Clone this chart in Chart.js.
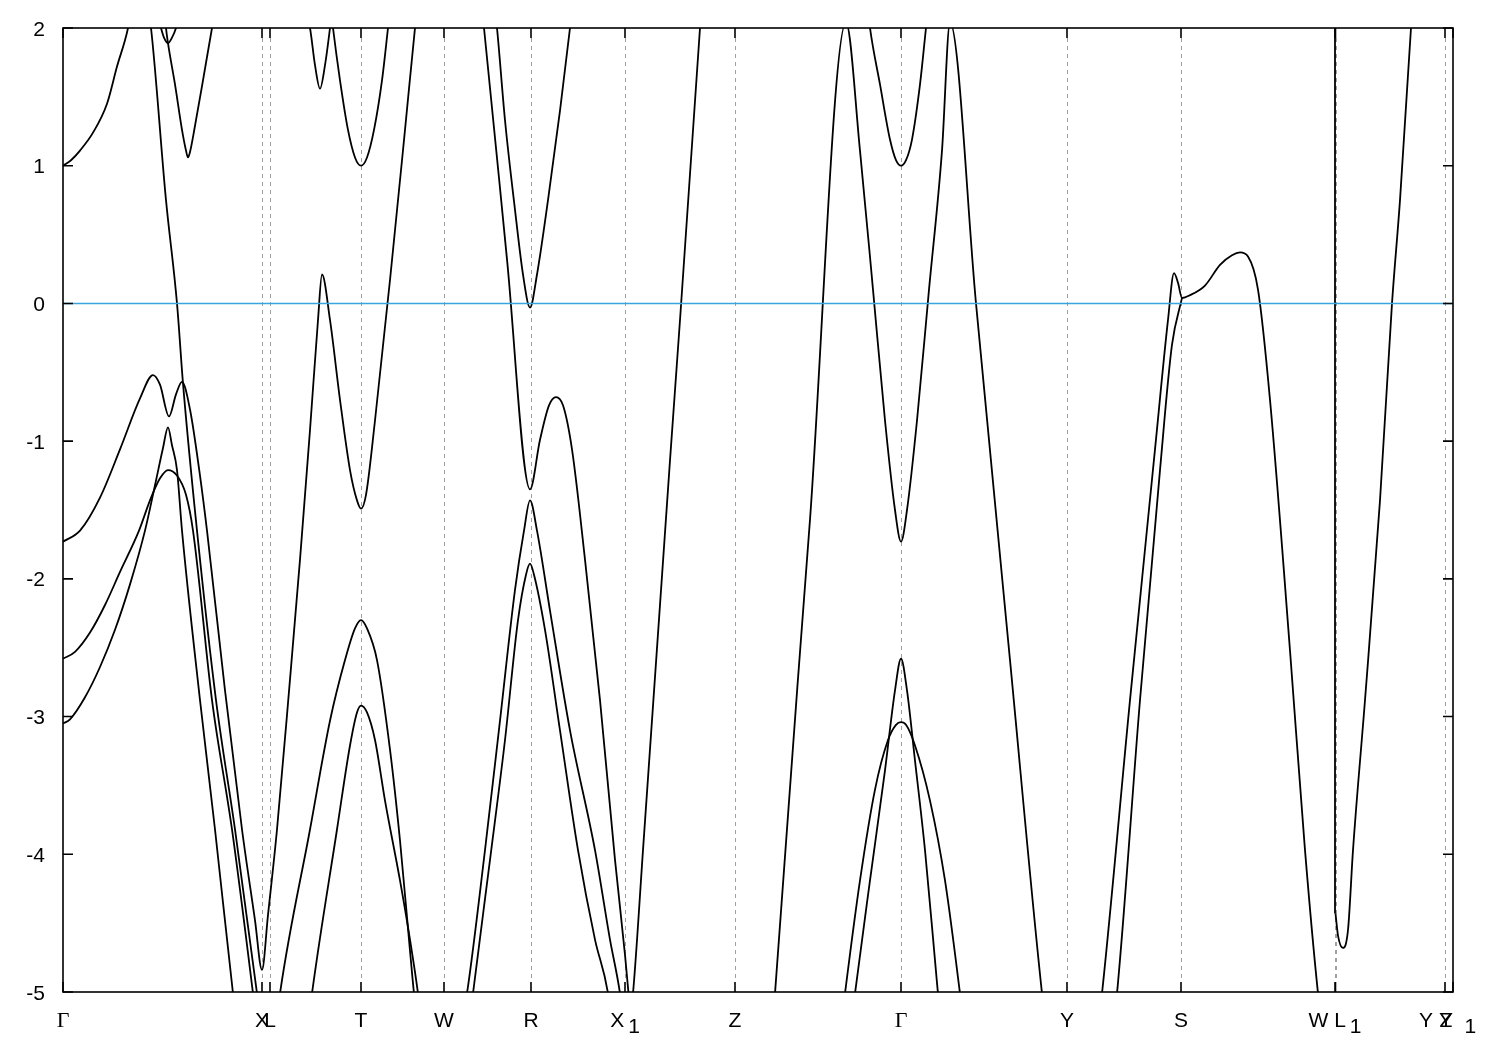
<!DOCTYPE html>
<html><head><meta charset="utf-8">
<script src="https://cdn.jsdelivr.net/npm/chart.js@4/dist/chart.umd.min.js"></script>
<style>html,body{margin:0;padding:0;background:#fff}#wrap{width:1500px;height:1050px;position:relative}</style>
</head><body><div id="wrap"><canvas id="c" width="1500" height="1050"></canvas></div>
<script>
const kMin = 0, kMax = 13.90, eMin = -5, eMax = 2;
const kTicks = [0, 1.99, 2.07, 2.98, 3.81, 4.68, 5.62, 6.72, 8.38, 10.04, 11.18, 12.72, 12.725, 13.82, 13.90];
const kTickLabels = ['Γ','X','L','T','W','R','X_1','Z','Γ','Y','S','W L_1','','Y Y','Z_1'];
const eTicks = [-5,-4,-3,-2,-1,0,1,2];
const fermi = [[0,0],[13.90,0]];

const bandA = [[0,1.00],[0.08,1.04],[0.17,1.11],[0.30,1.24],[0.44,1.45],[0.54,1.72],[0.65,2.00],[0.68,2.13]];
const bandB = [[0.95,2.09],[0.98,2.00],[1.01,1.93],[1.05,1.89],[1.09,1.93],[1.13,2.00],[1.16,2.09]];
const bandC = [[1.02,2.09],[1.03,2.00],[1.05,1.89],[1.12,1.59],[1.19,1.26],[1.23,1.11],[1.25,1.06],[1.27,1.10],[1.32,1.29],[1.40,1.62],[1.49,2.00],[1.51,2.08]];
const bandD = [[0.86,2.09],[0.88,2.00],[1.03,0.75],[1.14,0.00],[1.20,-0.58],[1.34,-1.65],[1.53,-2.88],[1.72,-3.82],[1.94,-5.01],[1.96,-5.13]];
const bandE = [[0,-1.73],[0.17,-1.65],[0.37,-1.41],[0.57,-1.06],[0.77,-0.69],[0.90,-0.52],[0.97,-0.59],[1.06,-0.82],[1.13,-0.66],[1.19,-0.57],[1.27,-0.77],[1.37,-1.25],[1.44,-1.65],[1.62,-2.81],[1.79,-3.82],[1.92,-4.48],[1.99,-4.84],[2.05,-4.44],[2.14,-3.82],[2.27,-2.73],[2.37,-1.86],[2.47,-0.92],[2.55,-0.12],[2.59,0.21],[2.67,-0.12],[2.77,-0.70],[2.87,-1.21],[2.94,-1.43],[2.98,-1.49],[3.03,-1.39],[3.12,-0.85],[3.27,0.17],[3.42,1.26],[3.52,2.00],[3.54,2.13]];
const bandF = [[0,-3.05],[0.07,-3.02],[0.22,-2.86],[0.37,-2.64],[0.52,-2.37],[0.67,-2.04],[0.82,-1.65],[0.92,-1.32],[1.00,-1.05],[1.05,-0.90],[1.09,-1.03],[1.14,-1.21],[1.19,-1.65],[1.37,-2.88],[1.52,-3.82],[1.70,-5.01],[1.72,-5.13]];
const bandG = [[0,-2.58],[0.12,-2.53],[0.27,-2.39],[0.42,-2.19],[0.57,-1.95],[0.76,-1.65],[0.87,-1.43],[0.97,-1.27],[1.05,-1.21],[1.14,-1.25],[1.23,-1.39],[1.30,-1.65],[1.49,-2.88],[1.69,-3.82],[1.90,-5.01],[1.92,-5.13]];
const bandH = [[2.15,-5.13],[2.17,-5.01],[2.47,-3.82],[2.67,-3.03],[2.82,-2.59],[2.92,-2.36],[2.98,-2.30],[3.04,-2.36],[3.14,-2.59],[3.27,-3.24],[3.37,-3.90],[3.47,-4.70],[3.51,-5.01],[3.53,-5.13]];
const bandI = [[2.47,-5.13],[2.49,-5.01],[2.74,-3.82],[2.87,-3.21],[2.94,-2.97],[2.98,-2.92],[3.04,-2.97],[3.12,-3.17],[3.22,-3.61],[3.37,-4.19],[3.47,-4.62],[3.55,-5.01],[3.57,-5.13]];
const bandJ = [[2.42,2.13],[2.47,2.00],[2.52,1.73],[2.57,1.56],[2.62,1.73],[2.67,2.00],[2.69,2.13]];
const bandK = [[2.68,2.13],[2.70,2.00],[2.77,1.62],[2.85,1.26],[2.92,1.06],[2.98,1.00],[3.04,1.06],[3.11,1.26],[3.19,1.62],[3.25,2.00],[3.27,2.13]];
const bandL = [[4.19,2.13],[4.21,2.00],[4.44,0.32],[4.67,-1.35],[4.77,-0.99],[4.86,-0.74],[4.93,-0.68],[5.00,-0.74],[5.09,-1.06],[5.22,-1.86],[5.37,-2.88],[5.52,-4.04],[5.62,-4.73],[5.67,-5.13]];
const bandM = [[4.01,-5.13],[4.04,-5.01],[4.22,-3.97],[4.37,-3.03],[4.52,-2.08],[4.61,-1.65],[4.67,-1.43],[4.74,-1.65],[4.87,-2.23],[5.07,-3.10],[5.32,-3.97],[5.47,-4.62],[5.57,-5.01],[5.59,-5.13]];
const bandN = [[4.08,-5.13],[4.10,-5.01],[4.27,-4.04],[4.42,-3.17],[4.55,-2.30],[4.63,-1.97],[4.67,-1.89],[4.71,-1.97],[4.82,-2.37],[4.97,-3.10],[5.15,-3.97],[5.32,-4.62],[5.45,-5.01],[5.47,-5.13]];
const bandO = [[4.32,2.13],[4.34,2.00],[4.42,1.33],[4.52,0.68],[4.60,0.21],[4.67,-0.03],[4.74,0.21],[4.85,0.75],[4.97,1.40],[5.07,2.00],[5.09,2.13]];
const bandP = [[5.68,-5.13],[5.70,-5.01],[5.80,-3.97],[6.07,-1.14],[6.37,2.00],[6.38,2.13]];
const bandQ = [[7.11,-5.13],[7.12,-5.01],[7.47,-1.57],[7.83,2.04],[7.97,1.11],[8.10,0.10],[8.22,-0.85],[8.32,-1.50],[8.38,-1.73],[8.44,-1.50],[8.54,-0.85],[8.66,0.10],[8.79,1.11],[8.87,2.04],[9.13,0.00],[9.47,-2.59],[9.79,-5.01],[9.81,-5.13]];
const bandR = [[8.05,2.13],[8.07,2.00],[8.17,1.59],[8.27,1.19],[8.33,1.04],[8.38,1.00],[8.43,1.04],[8.49,1.19],[8.57,1.59],[8.63,2.00],[8.65,2.13]];
const bandS = [[7.90,-5.13],[7.92,-5.01],[8.07,-4.19],[8.22,-3.39],[8.32,-2.81],[8.38,-2.58],[8.44,-2.81],[8.52,-3.32],[8.62,-3.97],[8.72,-4.77],[8.75,-5.01],[8.77,-5.13]];
const bandT = [[7.80,-5.13],[7.82,-5.01],[7.97,-4.19],[8.12,-3.53],[8.25,-3.17],[8.33,-3.06],[8.38,-3.04],[8.43,-3.06],[8.52,-3.21],[8.67,-3.61],[8.82,-4.19],[8.97,-5.01],[8.99,-5.13]];
const bandU = [[10.37,-5.13],[10.39,-5.01],[10.67,-2.88],[10.92,-1.06],[11.05,-0.12],[11.11,0.22],[11.15,0.15],[11.19,0.04],[11.27,0.06],[11.42,0.13],[11.57,0.28],[11.69,0.35],[11.77,0.37],[11.85,0.34],[11.95,0.10],[12.07,-0.70],[12.27,-2.52],[12.42,-3.97],[12.55,-5.01],[12.57,-5.13]];
const bandV = [[10.52,-5.13],[10.54,-5.01],[10.77,-2.88],[10.97,-1.21],[11.09,-0.30],[11.19,0.04]];
const bandW = [[12.72,2.2],[12.72,-4.43]];
const bandX = [[12.725,-4.43],[12.75,-4.59],[12.80,-4.68],[12.85,-4.55],[12.90,-3.97],[13.02,-2.88],[13.17,-1.43],[13.29,0.00],[13.37,0.75],[13.48,2.00],[13.49,2.13]];

const bands = [bandA,bandB,bandC,bandD,bandE,bandF,bandG,bandH,bandI,bandJ,bandK,bandL,bandM,bandN,bandO,bandP,bandQ,bandR,bandS,bandT,bandU,bandV,bandW,bandX];

const toXY = arr => arr.map(p => ({x:p[0], y:p[1]}));
const datasets = [{data: toXY(fermi), borderColor:'#3aa4dc', borderWidth:1.6, pointRadius:0, clip:0}];
bands.forEach(b => datasets.push({data: toXY(b), borderColor:'#000', borderWidth:1.8, pointRadius:0, cubicInterpolationMode:'monotone', clip:0}));

const SANS = 'Liberation Sans, Arial, sans-serif';
// label placement tweaks (pixels) for the crowded right end
const labelNudge = {13:{dx:-9, subGap:4}, 14:{dx:-7, subGap:12}};
const decor = {
  id:'decor',
  beforeDatasetsDraw(chart){
    const {ctx, chartArea:a, scales:{x}} = chart;
    ctx.save();
    ctx.strokeStyle='#a0a0a0'; ctx.lineWidth=1; ctx.setLineDash([4,4]);
    kTicks.forEach((k,i)=>{
      if(i===0||i===kTicks.length-1) return;
      const px=Math.round(x.getPixelForValue(k))+0.5;
      ctx.beginPath(); ctx.moveTo(px,a.top+10); ctx.lineTo(px,a.bottom-10); ctx.stroke();
    });
    ctx.restore();
  },
  afterDatasetsDraw(chart){
    const {ctx, chartArea:a, scales:{x,y}} = chart;
    ctx.save();
    ctx.strokeStyle='#000'; ctx.lineWidth=1.6; ctx.setLineDash([]);
    ctx.strokeRect(a.left, a.top, a.right-a.left, a.bottom-a.top);
    const T=10;
    ctx.beginPath();
    eTicks.forEach(v=>{
      const py=y.getPixelForValue(v);
      ctx.moveTo(a.left,py); ctx.lineTo(a.left+T,py);
      ctx.moveTo(a.right,py); ctx.lineTo(a.right-T,py);
    });
    kTicks.forEach(k=>{
      const px=x.getPixelForValue(k);
      ctx.moveTo(px,a.bottom); ctx.lineTo(px,a.bottom-T);
      ctx.moveTo(px,a.top); ctx.lineTo(px,a.top+T);
    });
    ctx.stroke();
    ctx.fillStyle='#000';
    ctx.font='21px '+SANS;
    ctx.textAlign='right'; ctx.textBaseline='alphabetic';
    eTicks.forEach(v=>{
      ctx.fillText(String(v), a.left-18, y.getPixelForValue(v)+7.5);
    });
    ctx.textAlign='left';
    kTickLabels.forEach((lab,i)=>{
      if(!lab) return;
      const parts=lab.split('_');
      const main=parts[0], sub=parts[1]||'';
      const nud = labelNudge[i] || {dx:0, subGap:4};
      const font = main==='Γ' ? '22px Liberation Serif, serif' : '21px '+SANS;
      ctx.font=font; const wm=ctx.measureText(main).width;
      const cx=x.getPixelForValue(kTicks[i]) + nud.dx;
      let sx, subX;
      ctx.font='21px '+SANS; const wsub = sub?ctx.measureText(sub).width:0;
      if(i===14){ sx = cx - wm/2; subX = sx + wm + nud.subGap; }
      else { const tot = wm + (sub? nud.subGap + wsub : 0); sx = cx - tot/2; subX = sx + wm + nud.subGap; }
      const base=a.bottom+35;
      ctx.font=font; ctx.fillText(main,sx,base);
      if(sub){ ctx.font='21px '+SANS; ctx.fillText(sub,subX,base+6); }
    });
    ctx.restore();
  }
};

new Chart(document.getElementById('c'), {
  type:'line',
  data:{datasets},
  options:{
    responsive:false, animation:false, devicePixelRatio:1,
    layout:{padding:{left:63,right:47,top:28,bottom:58}},
    plugins:{legend:{display:false}, tooltip:{enabled:false}},
    scales:{
      x:{type:'linear', min:kMin, max:kMax, display:false},
      y:{type:'linear', min:eMin, max:eMax, display:false}
    }
  },
  plugins:[decor]
});
</script></body></html>
